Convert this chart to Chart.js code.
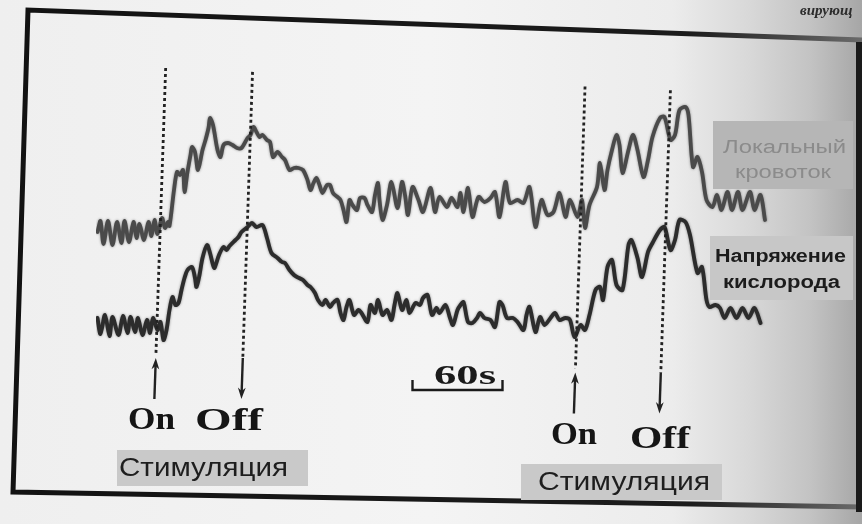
<!DOCTYPE html>
<html><head><meta charset="utf-8">
<script src="https://cdn.jsdelivr.net/npm/chart.js@4.4.0/dist/chart.umd.min.js"></script>
<style>html,body{margin:0;padding:0;background:#ececec;overflow:hidden}</style>
</head><body>
<canvas id="c" width="862" height="524"></canvas>
<script>
// Time in seconds, signals in arbitrary units
const flowTime = [
 1,3,5,8,11,14,17,19,22,25, 27,29,32,35,37,39,41,44,46,48,
 49,52,54,56,58,59,61,63,64,66, 68,71,73,75,76,78,81,83,85,88,
 91,94,97,101,103,105,107,109,111,114, 116,118,121,124,126,129,132,135,138,141,
 143,145,147,149,151,154,156,158,161,163, 165,167,169,171,174,176,179,181,184,186,
 188,189,191,194,197,201,204,206,208,211, 215,218,223,226,229,234,237,241,243,245,
 248,251,255,259,263,266,269,273,276,281, 285,289,293,297,301,305,309,313,316,321,
 324,326,329,334,336,339,341,344,347,349, 351,355,358,361,365,368,371,376,379,383,
 386,389,393,395,398,401,404,407,411,414, 417,421,424,428,431,436,439,443,446];
const flowValue = [
 128,139,116,139,115,138,117,139,118,138, 122,136,120,138,124,140,126,142,132,138,
 134,170,188,185,190,168,188,205,213,208, 190,210,220,232,242,235,210,203,215,217,
 215,212,212,222,225,233,228,223,225,220, 218,203,208,203,200,190,192,192,190,180,
 170,177,182,175,167,175,175,167,163,160, 150,138,160,155,150,162,162,155,148,165,
 177,160,140,155,178,152,178,165,145,173, 160,148,172,148,163,153,162,153,167,148,
 172,143,163,158,162,168,143,178,157,160, 157,173,133,160,145,148,167,143,160,143,
 160,132,155,173,197,170,190,210,225,215, 187,210,225,210,183,200,223,242,243,220,
 225,250,253,245,193,203,188,160,153,165, 150,168,150,168,150,168,150,165,140];
const o2Time = [
 1,3,6,9,11,15,18,21,23,26, 28,31,34,36,38,41,43,45,47,49,
 51,53,55,57,59,61,64,66,67,69, 71,74,76,78,79,82,85,87,89,93,
 95,97,101,104,107,111,114,117,121,124, 126,129,132,134,138,141,143,146,148,151,
 153,156,158,161,163,165,167,169,172,175, 177,181,183,186,188,191,194,197,199,201,
 204,207,209,213,216,218,221,224,227,229, 233,236,238,241,243,245,248,251,254,256,
 259,263,266,269,271,274,278,281,285,287, 289,293,296,299,303,306,309,313,316,319,
 323,326,329,333,336,338,341,344,347,351, 355,357,361,364,368,371,376,379,383,386,
 389,393,396,401,404,407,409,413,416,419, 423,427,431,435,439,443];
const o2Value = [
 42,26,45,24,43,25,44,27,43,28, 42,25,40,27,42,30,38,20,30,50,
 63,55,57,70,82,90,93,82,73,85, 102,115,107,95,92,105,113,110,114,120,
 123,128,133,137,133,135,122,107,102,98, 97,90,85,83,80,75,73,67,60,55,
 60,53,57,60,47,40,53,60,45,50, 47,38,55,47,60,45,50,40,55,67,
 50,60,47,57,55,62,65,45,52,47, 55,42,35,50,55,58,38,37,42,47,
 42,40,33,58,55,42,42,38,30,45, 53,28,43,35,42,47,40,42,40,23,
 35,30,45,70,73,60,93,100,75,70, 115,120,102,83,108,117,130,133,110,120,
 140,138,125,87,93,60,53,55,52,42, 52,42,52,42,52,37];
const stimOn = [43, 323];
const stimOff = [101, 380];
const scaleBar = [211, 271]; // 60 s
const seriesNames = ['Локальный кровоток', 'Напряжение кислорода'];
const stimLabel = 'Стимуляция';

const xy = (ts, vs) => ts.map((t, i) => ({x: t, y: vs[i]}));

function fitText(ctx, str, font, x1, x2, base, color) {
  ctx.save();
  ctx.font = font; ctx.fillStyle = color; ctx.textAlign = 'left'; ctx.textBaseline = 'alphabetic';
  const w = ctx.measureText(str).width;
  ctx.translate(x1, base); ctx.scale((x2 - x1) / w, 1);
  ctx.fillText(str, 0, 0);
  ctx.restore();
}
function arrow(ctx, x1, y1, x2, y2) {
  const a = Math.atan2(y2 - y1, x2 - x1), L = 12, s = 0.33;
  ctx.beginPath(); ctx.moveTo(x1, y1);
  ctx.lineTo(x2 - 6 * Math.cos(a), y2 - 6 * Math.sin(a)); ctx.stroke();
  ctx.beginPath();
  ctx.moveTo(x2 - L * Math.cos(a - s), y2 - L * Math.sin(a - s));
  ctx.lineTo(x2, y2);
  ctx.lineTo(x2 - L * Math.cos(a + s), y2 - L * Math.sin(a + s));
  ctx.lineTo(x2 - 8 * Math.cos(a), y2 - 8 * Math.sin(a));
  ctx.closePath(); ctx.fill();
}

const paper = {
  id: 'paper',
  beforeDraw(chart) {
    const ctx = chart.ctx, W = chart.width, H = chart.height;
    ctx.save();
    const g = ctx.createLinearGradient(0, 0, W, 0);
    g.addColorStop(0, '#efefef'); g.addColorStop(0.5, '#f4f4f4'); g.addColorStop(0.78, '#ececec');
    g.addColorStop(0.87, '#d8d8d8'); g.addColorStop(0.94, '#c3c3c3'); g.addColorStop(1, '#a6a6a6');
    ctx.fillStyle = g; ctx.fillRect(0, 0, W, H);
    // frame of the printed figure
    ctx.lineJoin = 'miter'; ctx.lineWidth = 5;
    const tg = ctx.createLinearGradient(0, 0, W, 0);
    tg.addColorStop(0, '#121212'); tg.addColorStop(0.8, '#1c1c1c'); tg.addColorStop(1, '#6a6a6a');
    ctx.strokeStyle = tg;
    ctx.beginPath(); ctx.moveTo(862, 40); ctx.lineTo(28, 10); ctx.lineTo(13, 492); ctx.lineTo(862, 507); ctx.stroke();
    ctx.fillStyle = '#1a1a1a'; ctx.fillRect(856, 42, 6, 470);
    ctx.font = 'italic bold 15px "Liberation Serif"'; ctx.fillStyle = '#2c2c2c';
    ctx.fillText('вирующ', 800, 15);
    ctx.restore();
  },
  beforeDatasetsDraw(chart) {
    const ctx = chart.ctx; ctx.save();
    ctx.shadowColor = 'rgba(0,0,0,0.45)'; ctx.shadowBlur = 2.5;
  },
  afterDatasetsDraw(chart) {
    const ctx = chart.ctx; ctx.restore();
    const xs = chart.scales.x;
    ctx.save();
    ctx.strokeStyle = '#222'; ctx.fillStyle = '#222';
    const line = (t, yBot) => {
      const x0 = xs.getPixelForValue(t);
      const yTop = 68 + 0.044 * (x0 - 160);
      const xAt = y => x0 - 0.034 * (y - 220);
      ctx.save(); ctx.setLineDash([3, 3]); ctx.lineWidth = 2.8;
      ctx.beginPath(); ctx.moveTo(xAt(yTop), yTop); ctx.lineTo(xAt(yBot), yBot); ctx.stroke();
      ctx.restore();
      return xAt;
    };
    ctx.lineWidth = 2.4;
    [0, 1].forEach(i => {
      const sk = i === 0 ? 0 : 14.5;
      const xa = line(stimOn[i], 354 + sk);
      arrow(ctx, xa(400 + sk), 399 + sk, xa(358 + sk), 358 + sk);
      const xb = line(stimOff[i], 358 + sk);
      arrow(ctx, xb(358 + sk), 358 + sk, xb(399 + sk), 399 + sk);
    });
    const bf = 'bold 31px "Liberation Serif"';
    fitText(ctx, 'On', bf, 128, 175, 429, '#151515');
    fitText(ctx, 'Off', bf, 195, 263, 430, '#151515');
    fitText(ctx, 'On', bf, 551, 597, 444, '#151515');
    fitText(ctx, 'Off', bf, 630, 690, 448, '#151515');
    const box = (x1, x2, y1, y2, tx1, tx2, base) => {
      ctx.fillStyle = '#c9c9c9'; ctx.fillRect(x1, y1, x2 - x1, y2 - y1);
      fitText(ctx, stimLabel, '25px "Liberation Sans"', tx1, tx2, base, '#1e1e1e');
    };
    box(117, 308, 450, 486, 119, 288, 476);
    box(521, 722, 464, 500, 538, 710, 490);
    const b1 = xs.getPixelForValue(scaleBar[0]), b2 = xs.getPixelForValue(scaleBar[1]);
    ctx.strokeStyle = '#1a1a1a'; ctx.lineWidth = 2.4;
    ctx.beginPath(); ctx.moveTo(b1, 380); ctx.lineTo(b1, 390); ctx.lineTo(b2, 390); ctx.lineTo(b2, 380); ctx.stroke();
    fitText(ctx, '60s', 'bold 28px "Liberation Serif"', 434, 496, 384, '#1a1a1a');
    ctx.filter = 'blur(0.7px)';
    ctx.fillStyle = '#b6b6b6'; ctx.fillRect(713, 121, 140, 68);
    fitText(ctx, 'Локальный', '18px "Liberation Sans"', 723, 846, 153, '#8b8b8b');
    fitText(ctx, 'кровоток', '18px "Liberation Sans"', 735, 831, 178, '#8b8b8b');
    ctx.fillStyle = '#c7c7c7'; ctx.fillRect(710, 236, 143, 64);
    fitText(ctx, 'Напряжение', 'bold 18px "Liberation Sans"', 715, 846, 262, '#1c1c1c');
    fitText(ctx, 'кислорода', 'bold 18px "Liberation Sans"', 723, 840, 288, '#1c1c1c');
    ctx.restore();
  }
};

new Chart(document.getElementById('c'), {
  type: 'line',
  data: {datasets: [
    {label: seriesNames[0], data: xy(flowTime, flowValue), borderColor: '#4a4a4a', borderWidth: 3.8,
     pointRadius: 0, tension: 0.3, fill: false, borderJoinStyle: 'round', borderCapStyle: 'round'},
    {label: seriesNames[1], data: xy(o2Time, o2Value), borderColor: '#2c2c2c', borderWidth: 3.9,
     pointRadius: 0, tension: 0.3, fill: false, borderJoinStyle: 'round', borderCapStyle: 'round'}
  ]},
  options: {
    responsive: false, animation: false, devicePixelRatio: 1,
    layout: {padding: {left: 96, right: 91, top: 60, bottom: 164}},
    scales: {
      x: {type: 'linear', min: 0, max: 450, display: false},
      y: {min: 0, max: 300, display: false}
    },
    plugins: {legend: {display: false}, tooltip: {enabled: false}}
  },
  plugins: [paper]
});
</script>
</body></html>
